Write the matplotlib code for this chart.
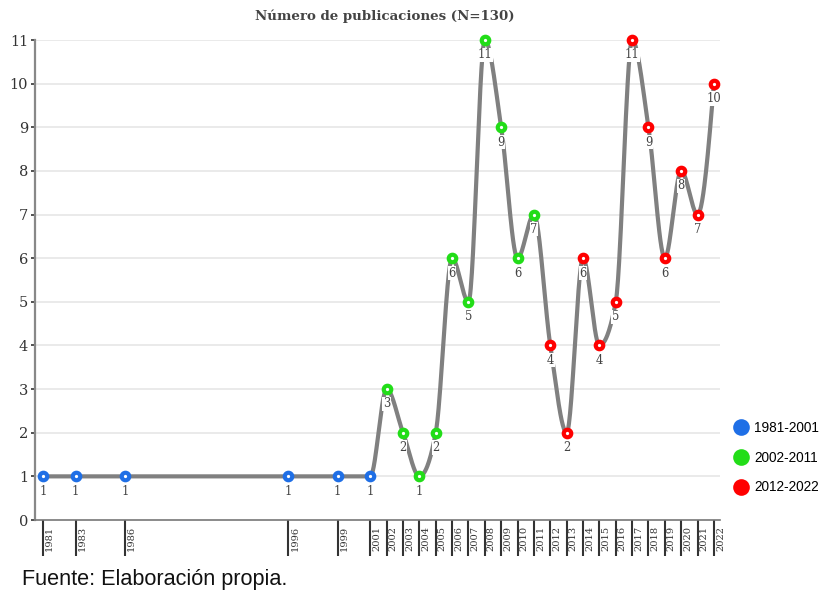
import numpy as np
import matplotlib as mpl
mpl.use('Agg')
import matplotlib.pyplot as plt
from matplotlib import transforms
from matplotlib.lines import Line2D

# Data: publications per year, grouped by period
years = [1981, 1983, 1986, 1996, 1999, 2001,
         2002, 2003, 2004, 2005, 2006, 2007, 2008, 2009, 2010, 2011,
         2012, 2013, 2014, 2015, 2016, 2017, 2018, 2019, 2020, 2021, 2022]
counts = [1, 1, 1, 1, 1, 1,
          3, 2, 1, 2, 6, 5, 11, 9, 6, 7,
          4, 2, 6, 4, 5, 11, 9, 6, 8, 7, 10]
periods = ["1981-2001"] * 6 + ["2002-2011"] * 10 + ["2012-2022"] * 11
period_colors = {"1981-2001": "#1f6fe6", "2002-2011": "#22dd18", "2012-2022": "#ff0000"}

title = "Número de publicaciones (N=130)"
source = "Fuente: Elaboración propia."


def monotone_x(x, y, n=30):
    # same shape as d3.curveMonotoneX
    x = np.asarray(x, float)
    y = np.asarray(y, float)
    k = len(x)
    h = np.diff(x)
    s = np.diff(y) / h
    t = np.zeros(k)
    for i in range(1, k - 1):
        p = (s[i - 1] * h[i] + s[i] * h[i - 1]) / (h[i - 1] + h[i])
        t[i] = (np.sign(s[i - 1]) + np.sign(s[i])) * min(abs(s[i - 1]), abs(s[i]), 0.5 * abs(p))
    t[0] = (3 * s[0] - t[1]) / 2 if k > 2 else s[0]
    t[-1] = (3 * s[-1] - t[-2]) / 2 if k > 2 else s[-1]
    xs, ys = [], []
    for i in range(k - 1):
        u = np.linspace(0, 1, n)
        h00 = 2 * u**3 - 3 * u**2 + 1
        h10 = u**3 - 2 * u**2 + u
        h01 = -2 * u**3 + 3 * u**2
        h11 = u**3 - u**2
        xs.append(x[i] + u * h[i])
        ys.append(h00 * y[i] + h10 * h[i] * t[i] + h01 * y[i + 1] + h11 * h[i] * t[i + 1])
    return np.concatenate(xs), np.concatenate(ys)


fig = plt.figure(figsize=(8.22, 5.94), dpi=100)
ax = fig.add_axes([35 / 822, 1 - 520 / 594, 685 / 822, 480 / 594])

serif = ['DejaVu Serif']
ax.set_xlim(1980.51, 2022.37)
ax.set_ylim(0, 11)

# grid
for v in range(1, 12):
    ax.axhline(v, color='#e6e6e6', lw=1.2, zorder=0)

# smooth line
sx, sy = monotone_x(years, counts)
ax.plot(sx, sy, color='#808080', lw=3, zorder=2, solid_capstyle='round')

# points
for yr, c, p in zip(years, counts, periods):
    ax.plot(yr, c, 'o', ms=5.4, mfc='white', mec=period_colors[p], mew=3.0,
            zorder=4, clip_on=False)
    ax.annotate(str(c), (yr, c), xytext=(0, -6), textcoords='offset points',
                ha='center', va='top', fontsize=8.3, family=serif, color='#444444',
                bbox=dict(boxstyle='square,pad=0.05', fc='white', ec='none'),
                zorder=3)

# axes styling
for sp in ['top', 'right']:
    ax.spines[sp].set_visible(False)
ax.spines['left'].set_color('#888888')
ax.spines['left'].set_linewidth(1.6)
ax.spines['bottom'].set_color('#777777')
ax.spines['bottom'].set_linewidth(1.2)

ax.set_yticks(range(0, 12))
ax.tick_params(axis='y', length=3, width=1.2, color='#333333', pad=2,
               labelsize=10.5, labelcolor='#333333')
for lab in ax.get_yticklabels():
    lab.set_family(serif)

# x ticks: long lines with rotated labels to their right
ax.set_xticks(years)
ax.set_xticklabels([])
ax.tick_params(axis='x', length=26, width=1.5, color='#333333', direction='out')
trans = transforms.blended_transform_factory(ax.transData, ax.transAxes)
for yr in years:
    off = transforms.offset_copy(trans, fig=fig, x=2, y=-6, units='dots')
    ax.text(yr, 0, str(yr), transform=off, rotation=90, ha='left', va='top',
            fontsize=7.1, family=serif, color='#333333')

# title
fig.text(385 / 822, 1 - 16 / 594, title, ha='center', va='center',
         fontsize=9.6, fontweight='bold', family=serif, color='#444444')

# legend
handles = [Line2D([], [], ls='none', marker='o', ms=12, mfc=col, mec='none')
           for col in period_colors.values()]
fig.legend(handles, list(period_colors.keys()), loc='upper left',
           bbox_to_anchor=(731 / 822, 1 - 421 / 594), frameon=False,
           prop={'family': 'Liberation Sans', 'size': 9.8},
           handletextpad=0.2, labelspacing=1.15, handlelength=1.5,
           borderaxespad=0, borderpad=0)

# source note
fig.text(22 / 822, 1 - 580 / 594, source, ha='left', va='center',
         fontsize=15.6, family='Liberation Sans', color='#111111')

fig.savefig('out.png', dpi=100)
